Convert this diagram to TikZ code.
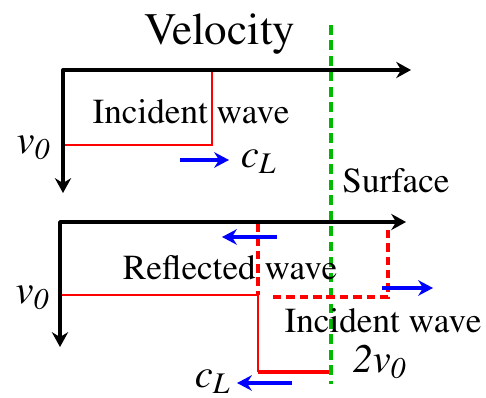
\documentclass[tikz,border=0pt]{standalone}
\usepackage[T1]{fontenc}
\usepackage{mathptmx}
\usetikzlibrary{arrows.meta}

\definecolor{verdeSup}{RGB}{0,185,0}

\begin{document}
\begin{tikzpicture}[x=0.01cm, y=-0.01cm,
    asse/.style={line width=1.1pt, line join=round,
        {Stealth[length=4.2pt,width=4.6pt]}-{Stealth[length=4.2pt,width=4.6pt]}},
    onda/.style={red, line width=0.6pt},
    ondaspessa/.style={red, line width=1.4pt},
    ondatratt/.style={red, line width=1pt, dash pattern=on 2.4pt off 1.4pt},
    freccia/.style={blue, line width=1.2pt, -{Stealth[length=4.2pt,width=4.4pt]}},
    superficie/.style={verdeSup, line width=1pt, dash pattern=on 2.8pt off 1.6pt},
    testo/.style={inner sep=0pt, font=\fontsize{10}{12}\selectfont},
    simbolo/.style={inner sep=0pt, font=\fontsize{11.5}{13}\selectfont\itshape}]

    \useasboundingbox (0,0) rectangle (486,398);

    % Punti degli assi
    \coordinate (O1) at (63,70);
    \coordinate (X1) at (411,70);
    \coordinate (Y1) at (63,193);
    \coordinate (O2) at (60,222);
    \coordinate (X2) at (406,222);
    \coordinate (Y2) at (60,347);

    % Superficie
    \coordinate (S1) at (331,25);
    \coordinate (S2) at (331,384);
    \draw[superficie] (S1) -- (S2);

    % Onda incidente (sopra)
    \coordinate (A1) at (212,70);
    \coordinate (A2) at (212,145);
    \coordinate (A3) at (63,145);
    \draw[onda] (A1) -- (A2) -- (A3);

    % Onda riflessa (sotto)
    \coordinate (B1) at (60,295);
    \coordinate (B2) at (258,295);
    \coordinate (B3) at (258,372);
    \coordinate (B4) at (329,372);
    \coordinate (B5) at (258,224);
    \coordinate (C1) at (273,297);
    \coordinate (C2) at (388,297);
    \coordinate (C3) at (388,225);
    \draw[onda] (B1) -- (B2) -- (B3);
    \draw[ondaspessa] (B3) -- (B4);
    \draw[ondatratt] (B5) -- (B2);
    \draw[ondatratt] (C1) -- (C2) -- (C3);

    % Assi
    \draw[asse] (Y1) -- (O1) -- (X1);
    \draw[asse] (Y2) -- (O2) -- (X2);

    % Frecce di propagazione
    \coordinate (F1a) at (180,160);
    \coordinate (F1b) at (229,160);
    \coordinate (F2a) at (277,237);
    \coordinate (F2b) at (222,237);
    \coordinate (F3a) at (382,288);
    \coordinate (F3b) at (433,288);
    \coordinate (F4a) at (292,383);
    \coordinate (F4b) at (237,383);
    \draw[freccia] (F1a) -- (F1b);
    \draw[freccia] (F2a) -- (F2b);
    \draw[freccia] (F3a) -- (F3b);
    \draw[freccia] (F4a) -- (F4b);

    % Etichette
    \node[testo, font=\fontsize{12.8}{14}\selectfont] (titolo) at (220,34) {Velocity};
    \node[testo] (inc1) at (191,112) {Incident wave};
    \node[simbolo] (v0a) at (34,148) {v\textsubscript{0}};
    \node[simbolo] (cLa) at (259,162) {c\textsubscript{L}};
    \node[testo] (sup) at (396,181) {Surface};
    \node[testo] (rifl) at (230,268) {Reflected wave};
    \node[testo] (inc2) at (383,321) {Incident wave};
    \node[simbolo] (v0b) at (33,298) {v\textsubscript{0}};
    \node[simbolo] (v2) at (380,362) {2v\textsubscript{0}};
    \node[simbolo] (cLb) at (213,382) {c\textsubscript{L}};

\end{tikzpicture}
\end{document}
